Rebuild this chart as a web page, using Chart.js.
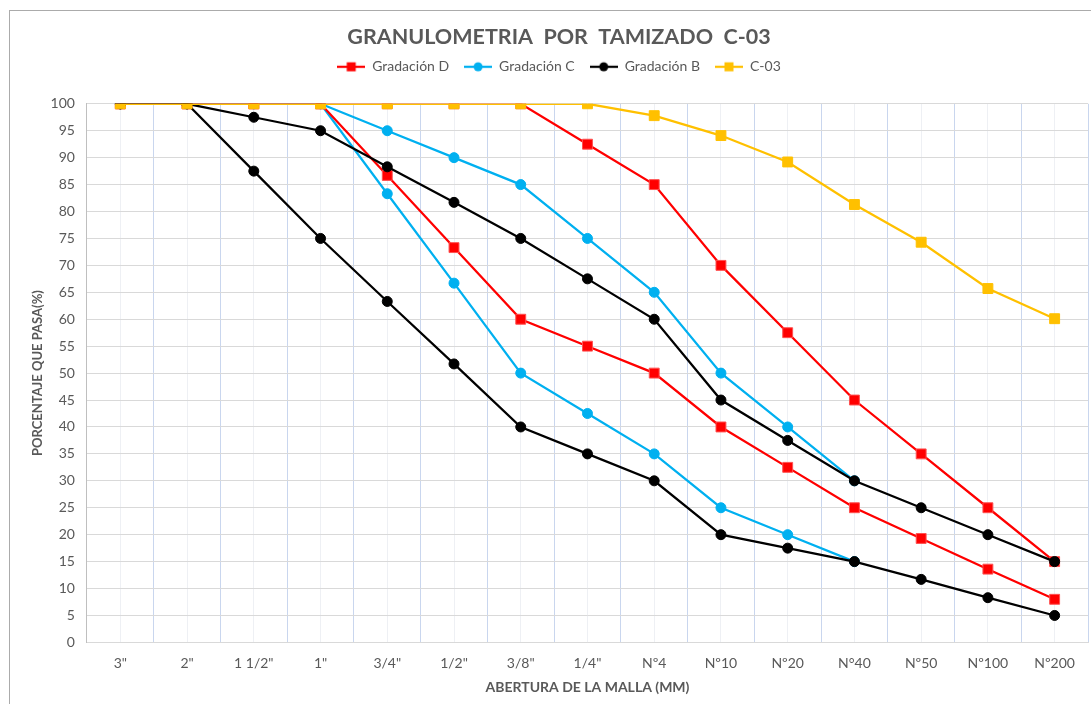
<!DOCTYPE html>
<html>
<head>
<meta charset="utf-8">
<script src="https://cdn.jsdelivr.net/npm/chart.js@4/dist/chart.umd.min.js"></script>
<style>
    html, body { margin: 0; padding: 0; background: #fff; overflow: hidden; }
    #frame {
        position: absolute; left: 9px; top: 10px;
        width: 1090px; height: 704px;
        border-left: 1px solid #ababab; border-top: 1px solid #ababab;
    }
    #chartBox { position: absolute; left: 0; top: 0; width: 1090px; height: 704px; }
</style>
</head>
<body>
<div id="frame"><div id="chartBox"><canvas id="granChart"></canvas></div></div>
<script>
// Granulometria chart data
const sieves = ['3"', '2"', '1 1/2"', '1"', '3/4"', '1/2"', '3/8"', '1/4"', 'Nº4', 'Nº10', 'Nº20', 'N°40', 'Nº50', 'Nº100', 'Nº200'];
const yTicks = [0, 5, 10, 15, 20, 25, 30, 35, 40, 45, 50, 55, 60, 65, 70, 75, 80, 85, 90, 95, 100];

const gradDUpper = [100, 100, 100, 100, 100, 100, 100, 92.5, 85, 70, 57.5, 45, 35, 25, 15];
const gradDLower = [100, 100, 100, 100, 86.7, 73.3, 60, 55, 50, 40, 32.5, 25, 19.3, 13.6, 8];
const gradCUpper = [100, 100, 100, 100, 95, 90, 85, 75, 65, 50, 40, 30, null, null, null];
const gradCLower = [100, 100, 100, 100, 83.3, 66.7, 50, 42.5, 35, 25, 20, 15, null, null, null];
const gradBUpper = [100, 100, 97.5, 95, 88.3, 81.7, 75, 67.5, 60, 45, 37.5, 30, 25, 20, 15];
const gradBLower = [100, 100, 87.5, 75, 63.3, 51.7, 40, 35, 30, 20, 17.5, 15, 11.7, 8.3, 5];
const muestraC03 = [100, 100, 100, 100, 100, 100, 100, 100, 97.8, 94.1, 89.2, 81.3, 74.3, 65.7, 60.1];

const RED = '#ff0000';
const BLUE = '#00b0f0';
const BLACK = '#000000';
const GOLD = '#ffc000';
const TEXT = '#595959';

function legendIcon(color, shape) {
    const c = document.createElement('canvas');
    c.width = 28;
    c.height = 12;
    const ctx = c.getContext('2d');
    ctx.strokeStyle = color;
    ctx.lineWidth = 2.25;
    ctx.beginPath();
    ctx.moveTo(0, 6);
    ctx.lineTo(28, 6);
    ctx.stroke();
    ctx.fillStyle = color;
    if (shape === 'rect') {
        ctx.fillRect(9.5, 1.5, 9, 9);
    } else {
        ctx.beginPath();
        ctx.arc(14, 6, 4.5, 0, Math.PI * 2);
        ctx.fill();
    }
    return c;
}

function series(label, data, color, shape, order, inLegend) {
    return {
        label,
        data,
        borderColor: color,
        backgroundColor: color,
        borderWidth: 2.25,
        pointStyle: shape,
        pointRadius: shape === 'rect' ? 7 : 5,
        pointHoverRadius: shape === 'rect' ? 7 : 5,
        pointBorderWidth: 1,
        pointBorderColor: shape === 'rect' && color === RED ? '#ff5050' : color,
        tension: 0,
        spanGaps: false,
        order,
        inLegend,
        legendIcon: legendIcon(color, shape),
    };
}

const datasets = [
    series('Gradación D', gradDUpper, RED, 'rect', 2, true),
    series('Gradación D', gradDLower, RED, 'rect', 2, false),
    series('Gradación C', gradCUpper, BLUE, 'circle', 3, true),
    series('Gradación C', gradCLower, BLUE, 'circle', 3, false),
    series('Gradación B', gradBUpper, BLACK, 'circle', 1, true),
    series('Gradación B', gradBLower, BLACK, 'circle', 1, false),
    series('C-03', muestraC03, GOLD, 'rect', 0, true),
];

// extra room under the legend, like the gap in the original sheet
const legendGap = {
    id: 'legendGap',
    beforeInit(chart) {
        const fit = chart.legend.fit;
        chart.legend.fit = function () {
            fit.call(this);
            this.height += 20;
        };
    },
};

new Chart(document.getElementById('granChart'), {
    type: 'line',
    data: { labels: sieves, datasets },
    plugins: [legendGap],
    options: {
        responsive: true,
        maintainAspectRatio: false,
        animation: false,
        layout: { padding: { top: 10, right: 12, left: 20, bottom: 19 } },
        plugins: {
            tooltip: { enabled: false },
            title: {
                display: true,
                text: 'GRANULOMETRIA  POR  TAMIZADO  C-03',
                color: TEXT,
                font: { family: 'Lato', size: 21.5, weight: 'bold' },
                padding: { top: 3, bottom: -5 },
            },
            legend: {
                position: 'top',
                labels: {
                    color: TEXT,
                    font: { family: 'Lato', size: 14 },
                    usePointStyle: true,
                    pointStyleWidth: 28,
                    padding: 15,
                    filter: (item, data) => data.datasets[item.datasetIndex].inLegend,
                    sort: (a, b) => a.datasetIndex - b.datasetIndex,
                    generateLabels: (chart) => chart.data.datasets.map((ds, i) => ({
                        text: ds.label,
                        datasetIndex: i,
                        pointStyle: ds.legendIcon,
                        fillStyle: ds.borderColor,
                        strokeStyle: ds.borderColor,
                        fontColor: TEXT,
                        lineWidth: 0,
                        hidden: false,
                    })),
                },
            },
        },
        scales: {
            x: {
                type: 'category',
                offset: true,
                grid: { offset: true, color: '#c9d6ee', drawTicks: false },
                border: { color: '#d9d9d9' },
                ticks: {
                    color: TEXT,
                    font: { family: 'Lato', size: 14 },
                    padding: 13,
                    maxRotation: 0,
                    autoSkip: false,
                },
                title: {
                    display: true,
                    text: 'ABERTURA DE LA MALLA (MM)',
                    color: TEXT,
                    font: { family: 'Lato', size: 14, weight: 'bold' },
                    padding: { top: -6, bottom: 0 },
                },
            },
            xMinor: {
                type: 'category',
                position: 'top',
                offset: true,
                labels: sieves,
                grid: { offset: false, color: '#eef0f4', drawTicks: false },
                border: { display: false },
                ticks: { display: false },
            },
            y: {
                min: 0,
                max: 100,
                afterBuildTicks: (axis) => {
                    axis.ticks = yTicks.map((v) => ({ value: v }));
                },
                grid: { color: '#d9d9d9', drawTicks: false },
                border: { color: '#bfbfbf' },
                ticks: {
                    color: TEXT,
                    font: { family: 'Lato', size: 14 },
                    padding: 12,
                },
                title: {
                    display: true,
                    text: 'PORCENTAJE QUE PASA(%)',
                    color: TEXT,
                    font: { family: 'Lato', size: 13, weight: 'bold' },
                    padding: { top: 0, bottom: -7 },
                },
            },
        },
    },
});
</script>
</body>
</html>
